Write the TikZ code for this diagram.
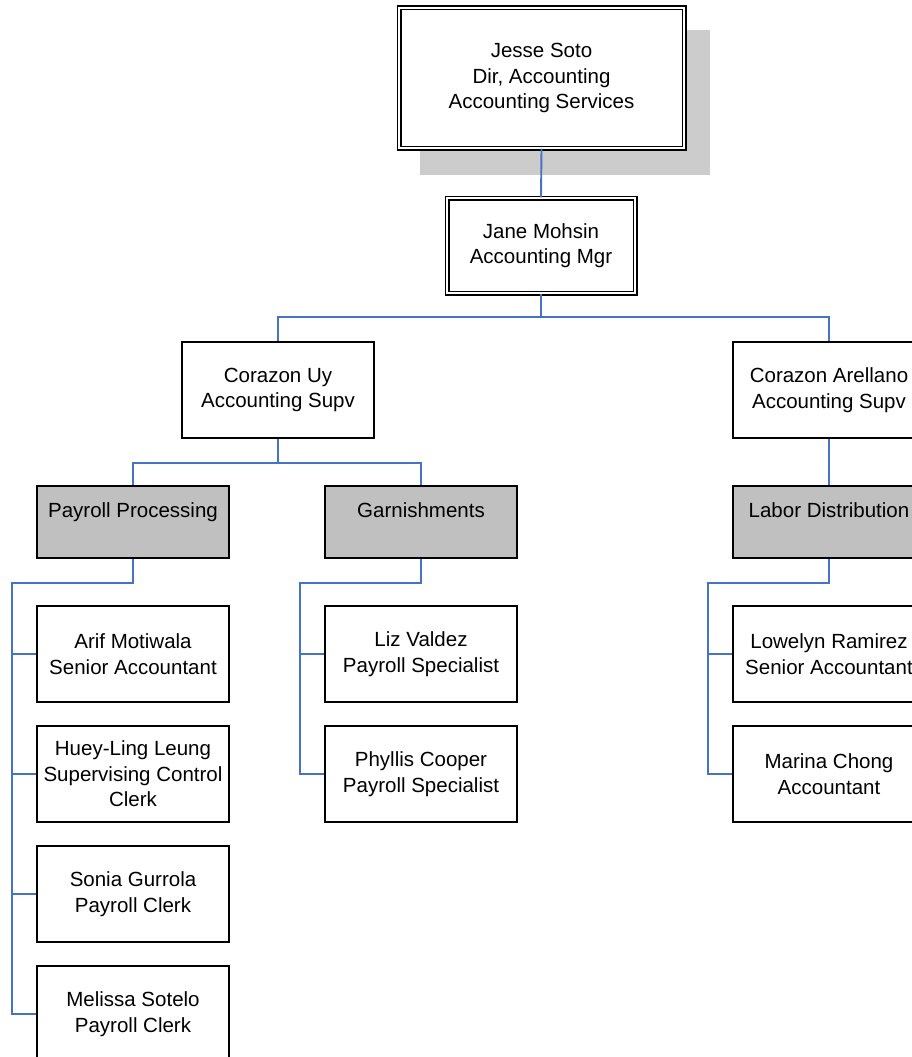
\documentclass[tikz,border=0pt]{standalone}
\usepackage{fontspec}
\setmainfont{Liberation Sans}
\begin{document}
\begin{tikzpicture}[x=1pt,y=-1pt,line join=miter,
	every node/.style={font=\fontsize{20.5}{25.5}\selectfont,align=center,inner sep=0pt},
	person/.style={draw=black,line width=1.3pt,fill=white,minimum width=192pt,minimum height=96pt},
	unit/.style={draw=black,line width=1.3pt,fill=unitgrey,minimum width=192pt,text height=31pt,text depth=41pt},
	boss/.style={draw=black,double=white,double distance=2.6pt,line width=1.2pt,fill=white},
	link/.style={draw=linkblue,line width=1.9pt}]
	\definecolor{linkblue}{RGB}{70,115,196}
	\definecolor{unitgrey}{RGB}{192,192,192}
	\definecolor{shadowgrey}{RGB}{204,204,204}
	\clip (0,0) rectangle (912,1057);
	% shadow of the top box
	\fill[shadowgrey] (420,30) rectangle (710,175);
	\node[boss,minimum width=285pt,minimum height=140pt] (dir) at (541.5,78) {Jesse Soto\\Dir, Accounting\\Accounting Services};
	\node[boss,minimum width=188pt,minimum height=95pt] (mgr) at (541,245.5) {Jane Mohsin\\Accounting Mgr};
	\node[person] (uy) at (278,390) {Corazon Uy\\Accounting Supv};
	\node[person] (are) at (829,390) {Corazon Arellano\\Accounting Supv};
	\node[unit] (pay) at (133,522) {Payroll Processing};
	\node[unit] (gar) at (421,522) {Garnishments};
	\node[unit] (lab) at (829,522) {Labor Distribution};
	% staff
	\node[person] (arif) at (133,654) {Arif Motiwala\\Senior Accountant};
	\node[person] (huey) at (133,774) {Huey-Ling Leung\\Supervising Control\\Clerk};
	\node[person] (sonia) at (133,894) {Sonia Gurrola\\Payroll Clerk};
	\node[person] (meli) at (133,1014) {Melissa Sotelo\\Payroll Clerk};
	\node[person] (liz) at (421,654) {Liz Valdez\\Payroll Specialist};
	\node[person] (phyl) at (421,774) {Phyllis Cooper\\Payroll Specialist};
	\node[person] (lowe) at (829,654) {Lowelyn Ramirez\\Senior Accountant};
	\node[person] (mari) at (829,774) {Marina Chong\\Accountant};
	% draw connectors
	\draw[link] (dir.south) -- (mgr.north);
	\foreach \s in {uy,are}
		\draw[link] (mgr.south) -- ++(0,23) -| (\s.north);
	\foreach \s in {pay,gar}
		\draw[link] (uy.south) -- ++(0,24) -| (\s.north);
	\draw[link] (are.south) -- (lab.north);
	\foreach \s in {arif,huey,sonia,meli}
		\draw[link] (pay.south) -- ++(0,24) -| ([xshift=-24pt]\s.west) -- (\s.west);
	\foreach \s in {liz,phyl}
		\draw[link] (gar.south) -- ++(0,24) -| ([xshift=-24pt]\s.west) -- (\s.west);
	\foreach \s in {lowe,mari}
		\draw[link] (lab.south) -- ++(0,24) -| ([xshift=-24pt]\s.west) -- (\s.west);
\end{tikzpicture}
\end{document}
